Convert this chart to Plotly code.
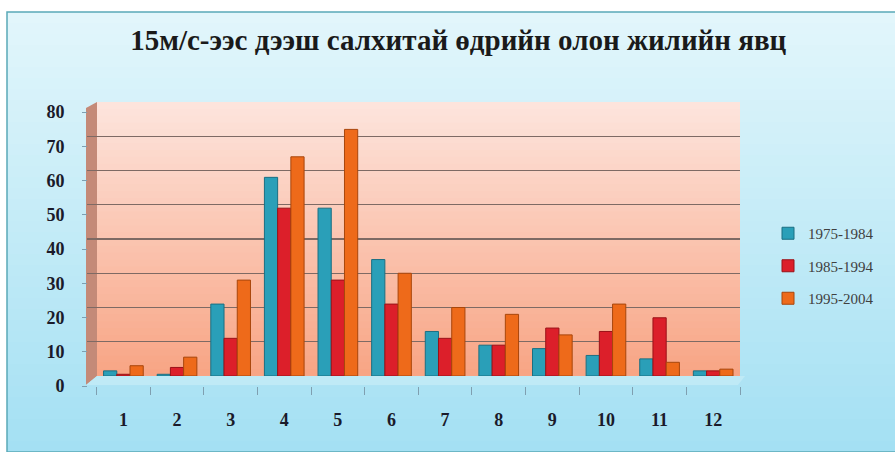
import plotly.graph_objects as go

months = ["1", "2", "3", "4", "5", "6", "7", "8", "9", "10", "11", "12"]
series_names = ["1975-1984", "1985-1994", "1995-2004"]
v1975 = [1.5, 0.5, 21, 58, 49, 34, 13, 9, 8, 6, 5, 1.5]
v1985 = [0.5, 2.5, 11, 49, 28, 21, 11, 9, 14, 13, 17, 1.5]
v1995 = [3, 5.5, 28, 64, 72, 30, 20, 18, 12, 21, 4, 2]
y_ticks = [0, 10, 20, 30, 40, 50, 60, 70, 80]
title_text = "15м/с-ээс дээш салхитай өдрийн олон жилийн явц"

colors = ["#2a9fb8", "#dc1f2a", "#ee6a1a"]
edges = ["#1b6f82", "#9a1218", "#a8460c"]

W, H = 895, 452
L, R, T, B = 87, 155, 102, 66
pw, ph = W - L - R, H - T - B
shift = 10  # front-axis labels sit below the back wall grid
dom_lo = shift / ph


def px_x(px):
    return (px - L) / pw


def px_y(py):
    return (H - B - py) / ph


def lerp(c1, c2, t):
    a = [int(c1[i:i + 2], 16) for i in (1, 3, 5)]
    b = [int(c2[i:i + 2], 16) for i in (1, 3, 5)]
    return "#%02x%02x%02x" % tuple(round(a[k] + (b[k] - a[k]) * t) for k in range(3))


shapes = []
n = 40
top_px, bot_px = 12, 452
for i in range(n):
    y0 = top_px + (bot_px - top_px) * i / n
    y1 = top_px + (bot_px - top_px) * (i + 1) / n + 0.5
    shapes.append(dict(type="rect", xref="paper", yref="paper", layer="below",
                       x0=px_x(7), x1=px_x(895), y0=px_y(y1), y1=px_y(y0),
                       fillcolor=lerp("#e2f6fb", "#a4e0f3", i / (n - 1)), line_width=0))
shapes.append(dict(type="rect", xref="paper", yref="paper", layer="below",
                   x0=px_x(7), x1=px_x(896), y0=px_y(452), y1=px_y(12),
                   line=dict(color="#5aa9b8", width=1.5)))
for i in range(n):
    y0 = i / n
    y1 = (i + 1) / n + 0.005
    yy0 = 1 - (1 - dom_lo) * y1
    yy1 = 1 - (1 - dom_lo) * y0
    shapes.append(dict(type="rect", xref="paper", yref="paper", layer="below",
                       x0=px_x(97), x1=1, y0=yy0, y1=yy1,
                       fillcolor=lerp("#fde4dc", "#f8a585", i / (n - 1)), line_width=0))
shapes.append(dict(type="path", xref="paper", yref="paper", layer="below",
                   path="M %f,%f L %f,%f L %f,%f L %f,%f Z" % (
                       px_x(86), px_y(108), px_x(97), px_y(102),
                       px_x(97), px_y(376), px_x(86), px_y(385)),
                   fillcolor="#c48a78", line_width=0))
shapes.append(dict(type="path", xref="paper", yref="paper", layer="below",
                   path="M %f,%f L %f,%f L %f,%f L %f,%f Z" % (
                       px_x(86), px_y(385), px_x(97), px_y(376),
                       px_x(745), px_y(376), px_x(738), px_y(385)),
                   fillcolor="#bfeaf6", line_width=0))

fig = go.Figure()
for name, vals, c, e in zip(series_names, [v1975, v1985, v1995], colors, edges):
    fig.add_trace(go.Bar(x=months, y=vals, name=name, legendgroup=name,
                         marker=dict(color=c, line=dict(color=e, width=1)),
                         hoverinfo="skip"))
# carrier for the front value axis labels
fig.add_trace(go.Scatter(x=[months[0]], y=[0], yaxis="y2", mode="markers",
                         marker=dict(opacity=0), showlegend=False, hoverinfo="skip"))

tick_font = dict(family="Liberation Serif", size=18, color="#1a1a2a", weight="bold")

fig.update_layout(
    width=W, height=H,
    margin=dict(l=L, r=R, t=T, b=B, autoexpand=False),
    paper_bgcolor="white",
    plot_bgcolor="rgba(0,0,0,0)",
    shapes=shapes,
    barmode="group", bargap=0.26, bargroupgap=0.0,
    title=dict(text="<b>" + title_text + "</b>", x=0.512, xanchor="center",
               y=1 - 40 / H, yanchor="middle",
               font=dict(family="Liberation Serif", size=29, color="#1a1a1a")),
    legend=dict(x=px_x(768), xanchor="left", y=px_y(266), yanchor="middle",
                font=dict(family="Liberation Serif", size=15, color="#404040"),
                bgcolor="rgba(0,0,0,0)", tracegroupgap=10, itemwidth=30),
    showlegend=True,
    xaxis=dict(showgrid=False, showline=False, anchor="free", position=0,
               automargin=False,
               ticks="outside", ticklen=8, tickcolor="#7f9fb0",
               tickfont=tick_font, ticklabelstandoff=21, tickson="boundaries"),
    yaxis=dict(domain=[dom_lo, 1], range=[0, 80], tickvals=y_ticks, showgrid=True,
               automargin=False,
               gridcolor="#7e6a64", gridwidth=1.4, zeroline=False, showline=False,
               showticklabels=False),
    yaxis2=dict(domain=[0, 1 - dom_lo], range=[0, 80], tickvals=y_ticks,
                automargin=False,
                anchor="free", position=0, side="left", showgrid=False,
                zeroline=False, showline=False, ticks="outside", ticklen=5,
                tickcolor="#7f9fb0", tickfont=tick_font, ticklabelstandoff=14),
)

fig.write_html("out.html", config={"displayModeBar": False, "staticPlot": True},
               post_script="document.body.style.margin='0';")
